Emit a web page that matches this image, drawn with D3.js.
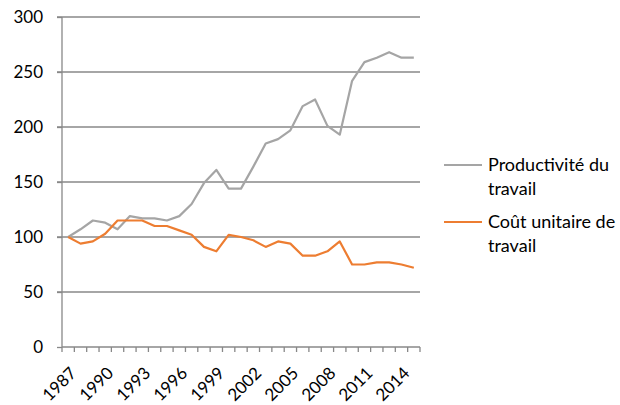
<!DOCTYPE html>
<html>
<head>
<meta charset="utf-8">
<script src="https://cdn.jsdelivr.net/npm/d3@7"></script>
<style>
  body { margin: 0; background: #fff; }
  svg text { font-family: Lato, "Liberation Sans", sans-serif; fill: #000; }
</style>
</head>
<body>
<div id="chart"></div>
<script>
const years = d3.range(1987, 2016);
const productivite = [100, 107, 115, 113, 107, 119, 117, 117, 115, 119, 130, 149, 161, 144, 144,
    164, 185, 189, 197, 219, 225, 201, 193, 242, 259, 263, 268, 263, 263];
const coutUnitaire = [100, 94, 96, 103, 115, 115, 115, 110, 110, 106, 102, 91, 87, 102, 100,
    97, 91, 96, 94, 83, 83, 87, 96, 75, 75, 77, 77, 75, 72];
const yTicks = [0, 50, 100, 150, 200, 250, 300];
const seriesNames = ["Productivité du travail", "Coût unitaire de travail"];
const legendLines = [["Productivité du", "travail"], ["Coût unitaire de", "travail"]];
const colors = ["#a5a5a5", "#ed7d31"];

const width = 620;
const height = 405;
const margin = {top: 17, right: 200, bottom: 58, left: 62};

const svg = d3.select("#chart").append("svg")
    .attr("width", width)
    .attr("height", height);

const x = d3.scaleBand()
    .domain(years)
    .range([margin.left, width - margin.right]);

const y = d3.scaleLinear()
    .domain([0, 300])
    .range([height - margin.bottom, margin.top]);

// grid
svg.append("g")
    .selectAll("line")
    .data(yTicks.filter(d => d > 0))
    .join("line")
    .attr("x1", margin.left - 5)
    .attr("x2", width - margin.right)
    .attr("y1", d => y(d))
    .attr("y2", d => y(d))
    .attr("stroke", "#888")
    .attr("stroke-width", 1.3);

// y axis
const yAxis = svg.append("g")
    .attr("transform", `translate(${margin.left},0)`)
    .call(d3.axisLeft(y).tickValues(yTicks).tickSize(5).tickPadding(14));
yAxis.selectAll("line, path").attr("stroke", "#888").attr("stroke-width", 1.3);
yAxis.select(".domain").attr("d", `M0,${y(0)}V${y(300)}`);
yAxis.selectAll("text").style("font-size", "17px");

// x axis
const xAxis = svg.append("g")
    .attr("transform", `translate(0,${y(0)})`);
xAxis.append("line")
    .attr("x1", margin.left)
    .attr("x2", width - margin.right)
    .attr("stroke", "#888")
    .attr("stroke-width", 1.3);
xAxis.selectAll(".tick")
    .data(years.concat([2016]))
    .join("line")
    .attr("class", "tick")
    .attr("x1", d => d === 2016 ? x.range()[1] : x(d))
    .attr("x2", d => d === 2016 ? x.range()[1] : x(d))
    .attr("y1", 0)
    .attr("y2", 5)
    .attr("stroke", "#888")
    .attr("stroke-width", 1.3);
xAxis.selectAll("text")
    .data(years.filter(d => (d - 1987) % 3 === 0))
    .join("text")
    .attr("transform", d => `translate(${x(d) + x.bandwidth() / 2 + 5},23) rotate(-45)`)
    .attr("text-anchor", "end")
    .attr("dy", "0.35em")
    .style("font-size", "17px")
    .text(d => d);

// lines
const line = d3.line()
    .x((d, i) => x(years[i]) + x.bandwidth() / 2)
    .y(d => y(d));

[productivite, coutUnitaire].forEach((s, k) => {
    svg.append("path")
        .datum(s)
        .attr("fill", "none")
        .attr("stroke", colors[k])
        .attr("stroke-width", 2.2)
        .attr("stroke-linejoin", "round")
        .attr("d", line);
});

// legend
const legend = svg.append("g")
    .selectAll("g")
    .data(seriesNames)
    .join("g")
    .attr("transform", (d, i) => `translate(444,${165 + i * 57})`);
legend.append("line")
    .attr("x1", 0)
    .attr("x2", 38)
    .attr("stroke", (d, i) => colors[i])
    .attr("stroke-width", 2.2);
legend.append("text")
    .style("font-size", "18px")
    .selectAll("tspan")
    .data((d, i) => legendLines[i])
    .join("tspan")
    .attr("x", 44)
    .attr("y", (d, i) => i * 24)
    .attr("dy", "0.35em")
    .text(d => d);
</script>
</body>
</html>
